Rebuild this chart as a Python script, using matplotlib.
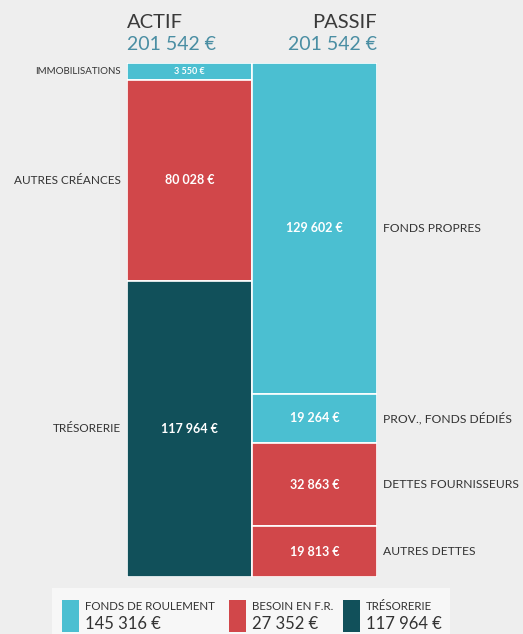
import matplotlib.pyplot as plt
from matplotlib.patches import Rectangle

plt.rcParams["font.family"] = ["Lato", "DejaVu Sans"]

CYAN = "#4bbfd1"
RED = "#d1474a"
TEAL = "#11505a"
BLUE_TXT = "#4a8ea3"

# data
actif_labels = ["IMMOBILISATIONS", "AUTRES CRÉANCES", "TRÉSORERIE"]
actif_values = [3550, 80028, 117964]
actif_colors = [CYAN, RED, TEAL]

passif_labels = ["FONDS PROPRES", "PROV., FONDS DÉDIÉS", "DETTES FOURNISSEURS", "AUTRES DETTES"]
passif_values = [129602, 19264, 32863, 19813]
passif_colors = [CYAN, CYAN, RED, RED]

legend_labels = ["FONDS DE ROULEMENT", "BESOIN EN F.R.", "TRÉSORERIE"]
legend_values = [145316, 27352, 117964]
legend_colors = [CYAN, RED, TEAL]


def euro(v):
    return f"{v:,}".replace(",", " ") + " €"


def display_heights(values, min_frac=0.033):
    # small blocks get a minimum visible height, the rest share what is left
    tot = sum(values)
    mn = tot * min_frac
    small = [v < mn for v in values]
    rest = tot - mn * sum(small)
    big_tot = sum(v for v, s in zip(values, small) if not s)
    return [mn if s else v * rest / big_tot for v, s in zip(values, small)]


W, H = 523, 634
fig = plt.figure(figsize=(W / 100, H / 100), dpi=100, facecolor="#eeeeee")
ax = fig.add_axes([127 / W, (H - 577) / H, 250 / W, 514 / H])
ax.set_xlim(0, 2)
total = sum(actif_values)
ax.set_ylim(total, 0)
ax.axis("off")

# actif column
y = 0
for lab, v, h, c in zip(actif_labels, actif_values, display_heights(actif_values), actif_colors):
    ax.bar(0, h, width=1, bottom=y, align="edge", color=c, edgecolor="white", linewidth=1.2)
    small = v < total * 0.05
    ax.text(0.5, y + h / 2, euro(v), ha="center", va="center", color="white",
            fontsize=6.5 if small else 9, fontweight="bold")
    ax.text(-0.05, y + h / 2, lab, ha="right", va="center", color="#333333",
            fontsize=7 if small else 8.5, clip_on=False)
    y += h

# passif column
y = 0
for lab, v, h, c in zip(passif_labels, passif_values, display_heights(passif_values), passif_colors):
    ax.bar(1, h, width=1, bottom=y, align="edge", color=c, edgecolor="white", linewidth=1.2)
    ax.text(1.5, y + h / 2, euro(v), ha="center", va="center", color="white",
            fontsize=9, fontweight="bold")
    ax.text(2.05, y + h / 2, lab, ha="left", va="center", color="#333333",
            fontsize=8.7, clip_on=False)
    y += h

# headers
fig.text(127 / W, 1 - 22 / H, "ACTIF", ha="left", va="center", fontsize=14.5, color="#3a3a3a")
fig.text(127 / W, 1 - 44 / H, euro(sum(actif_values)), ha="left", va="center",
         fontsize=14, color=BLUE_TXT)
fig.text(377 / W, 1 - 22 / H, "PASSIF", ha="right", va="center", fontsize=14.5, color="#3a3a3a")
fig.text(377 / W, 1 - 44 / H, euro(sum(passif_values)), ha="right", va="center",
         fontsize=14, color=BLUE_TXT)

# legend box
fig.patches.append(Rectangle((52 / W, 0), 398 / W, 46 / H, transform=fig.transFigure,
                             facecolor="#f7f7f7", edgecolor="none"))
xs = [62, 229, 343]
for x, lab, v, c in zip(xs, legend_labels, legend_values, legend_colors):
    fig.patches.append(Rectangle((x / W, 2 / H), 17 / W, 32 / H, transform=fig.transFigure,
                                 facecolor=c, edgecolor="none"))
    fig.text((x + 23) / W, 1 - 607 / H, lab, ha="left", va="center", fontsize=8.3, color="#333333")
    fig.text((x + 23) / W, 1 - 624 / H, euro(v), ha="left", va="center", fontsize=12,
             color="#333333")

fig.savefig("out.png", dpi=100, facecolor=fig.get_facecolor())
